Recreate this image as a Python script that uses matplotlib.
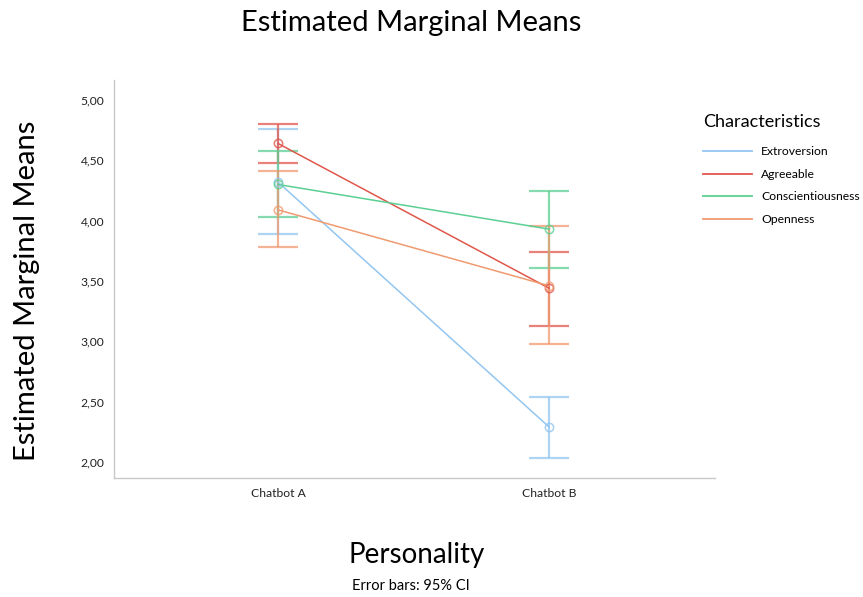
import numpy as np
import matplotlib.pyplot as plt
from matplotlib.lines import Line2D
from matplotlib.ticker import FuncFormatter

plt.rcParams['font.family'] = ['Lato', 'DejaVu Sans']

# --- data ---
groups = ["Chatbot A", "Chatbot B"]
traits = ["Extroversion", "Agreeable", "Conscientiousness", "Openness"]
colors = ["#93c6f0", "#e0574c", "#5ccf92", "#f09a70"]

means = {
    "Extroversion":      [4.32, 2.29],
    "Agreeable":         [4.64, 3.44],
    "Conscientiousness": [4.30, 3.93],
    "Openness":          [4.09, 3.46],
}
ci_low = {
    "Extroversion":      [3.89, 2.03],
    "Agreeable":         [4.48, 3.13],
    "Conscientiousness": [4.03, 3.61],
    "Openness":          [3.78, 2.98],
}
ci_high = {
    "Extroversion":      [4.76, 2.54],
    "Agreeable":         [4.80, 3.74],
    "Conscientiousness": [4.58, 4.25],
    "Openness":          [4.41, 3.96],
}

fig = plt.figure(figsize=(8.63, 5.97), dpi=100)
ax = fig.add_axes([0.1321, 0.1993, 0.6964, 0.6667])

x = np.arange(len(groups))
for trait, col in zip(traits, colors):
    m = np.array(means[trait])
    lo = m - np.array(ci_low[trait])
    hi = np.array(ci_high[trait]) - m
    ax.errorbar(x, m, yerr=[lo, hi], fmt='none', ecolor=col, elinewidth=1.6,
                capsize=14.4, capthick=1.6, alpha=0.75, zorder=2)
    ax.plot(x, m, color=col, lw=1.1, zorder=3)
    ax.plot(x, m, 'o', mfc='none', mec=col, ms=6, mew=1.1, alpha=0.8, zorder=4)

ax.set_xlim(-0.605, 1.612)
ax.set_ylim(1.867, 5.166)
ax.set_xticks(x)
ax.set_xticklabels(groups)
ax.set_yticks([2.0, 2.5, 3.0, 3.5, 4.0, 4.5, 5.0])
ax.yaxis.set_major_formatter(FuncFormatter(lambda v, p: f"{v:.2f}".replace('.', ',')))
ax.tick_params(axis='both', length=0, labelsize=8.7, pad=7, colors='#222222')

for s in ['top', 'right']:
    ax.spines[s].set_visible(False)
for s in ['left', 'bottom']:
    ax.spines[s].set_color('#c8c8c8')
    ax.spines[s].set_linewidth(1.0)

fig.text(0.477, 0.962, "Estimated Marginal Means", ha='center', va='center', fontsize=21)
ax.set_ylabel("Estimated Marginal Means", fontsize=21)
ax.yaxis.set_label_coords(-0.123, 0.47)
fig.text(0.483, 0.07, "Personality", ha='center', va='center', fontsize=20)
fig.text(0.476, 0.018, "Error bars: 95% CI", ha='center', va='center', fontsize=10.5)

handles = [Line2D([0], [0], color=c, lw=1.3) for c in colors]
leg = fig.legend(handles, traits, loc='upper left', bbox_to_anchor=(0.805, 0.8237),
                 frameon=False, fontsize=8.7, title="Characteristics",
                 title_fontsize=13, handlelength=4.0, labelspacing=0.95,
                 handletextpad=0.8, borderaxespad=0.3)
leg._legend_box.align = "left"
leg._legend_box.sep = 12

fig.savefig("out.png", dpi=100)
